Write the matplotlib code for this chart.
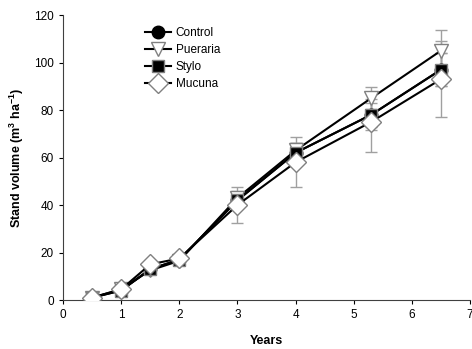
import numpy as np
import matplotlib
matplotlib.use("Agg")
import matplotlib.pyplot as plt

# =========================
# DATA
# =========================

years = [0.5, 1, 1.5, 2, 3, 4, 5.3, 6.5]

control = [1, 4, 13, 17, 42, 62, 78, 97]
pueraria = [1, 4.5, 12.5, 16.5, 43, 63, 85, 105]
stylo = [1, 4, 13, 17, 42, 62, 78, 97]
mucuna = [1, 4.5, 15, 17.5, 40, 58, 75, 93]

control_err = [0.3, 0.5, 1, 1, 3, 4, 5, 7]
pueraria_err = [0.3, 0.5, 1, 1, 3, 3, 4.5, 8.5]
stylo_err = [0.3, 0.5, 1, 1, 3, 4, 6.5, 7]
mucuna_err = [0.3, 0.5, 1, 1, 7.5, 10.5, 12.5, 16]

series_names = ["Control", "Pueraria", "Stylo", "Mucuna"]

# =========================
# STYLE
# =========================

plt.rcParams['font.family'] = ['Liberation Sans', 'DejaVu Sans']
plt.rcParams['mathtext.fontset'] = 'custom'
plt.rcParams['mathtext.rm'] = 'Liberation Sans'
plt.rcParams['mathtext.bf'] = 'Liberation Sans:bold'

styles = [
    dict(marker='o', mfc='black', mec='black', ms=9),
    dict(marker='v', mfc='white', mec='#808080', ms=9.5),
    dict(marker='s', mfc='black', mec='#808080', ms=8.5),
    dict(marker='D', mfc='white', mec='#808080', ms=10),
]

fig = plt.figure(figsize=(4.72, 3.49), dpi=100)
ax = fig.add_axes([0.1335, 0.1404, 0.8625, 0.8166])

all_vals = [control, pueraria, stylo, mucuna]
all_errs = [control_err, pueraria_err, stylo_err, mucuna_err]

for i, (name, vals, errs, st) in enumerate(zip(series_names, all_vals, all_errs, styles)):
    ax.errorbar(years, vals, yerr=errs, fmt='none', ecolor='#a0a0a0',
                elinewidth=1, capsize=4, capthick=1, zorder=1)
    ax.plot(years, vals, color='black', lw=1.5, label=name,
            zorder=3 + i, **st)

ax.set_xlim(0, 7)
ax.set_ylim(0, 120)
ax.set_xticks(range(0, 8))
ax.set_yticks(range(0, 121, 20))
ax.tick_params(direction='out', length=3, labelsize=8.5, colors='black')
ax.spines['top'].set_visible(False)
ax.spines['right'].set_visible(False)
ax.spines['left'].set_color('#404040')
ax.spines['bottom'].set_color('#404040')

ax.set_xlabel("Years", fontsize=9, fontweight='bold', labelpad=10)
ax.set_ylabel(r"Stand volume (m$^{\mathbf{3}}$ ha$^{\mathbf{-1}}$)",
              fontsize=9, fontweight='bold', labelpad=6)

ax.legend(loc='upper left', bbox_to_anchor=(0.19, 0.975), frameon=False,
          fontsize=8.5, handlelength=2.2, handletextpad=0.4,
          labelspacing=0.42, borderaxespad=0)

fig.savefig("out.png", dpi=100)
